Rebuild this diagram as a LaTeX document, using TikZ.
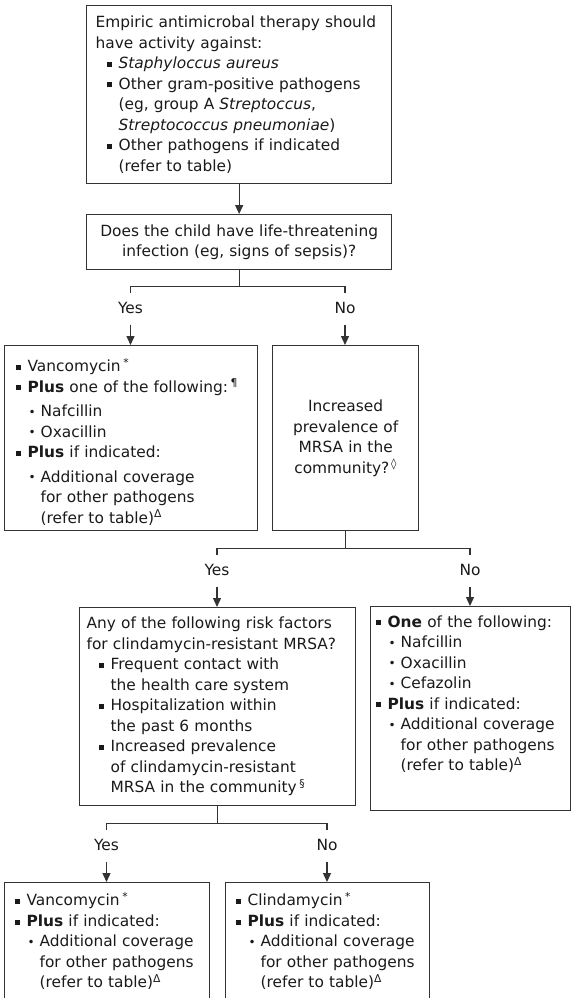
\documentclass[tikz,border=0pt]{standalone}
\usepackage{fontspec}
\setmainfont{DejaVu Sans}
\usetikzlibrary{arrows.meta}

\definecolor{ln}{HTML}{333333}
\definecolor{tx}{HTML}{1A1A1A}

\newcommand{\sqbul}{\rule[1.8pt]{5pt}{5pt}}
\newcommand{\rdbul}{\raisebox{0.5pt}{\fontsize{12}{12}\selectfont •}}
\newcommand{\itm}[2][0pt]{\par\hangindent=\dimexpr#1+12pt\relax\noindent\makebox[\dimexpr#1+12pt\relax][l]{\hspace*{#1}\sqbul}#2}
\newcommand{\sitm}[2][13pt]{\par\hangindent=\dimexpr#1+12pt\relax\noindent\makebox[\dimexpr#1+12pt\relax][l]{\hspace*{#1}\rdbul}#2}
\newcommand{\subgap}{\par\vspace{4pt}}
\newcommand{\seeref}{(refer to table)\textsuperscript{Δ}}

\begin{document}
\begin{tikzpicture}[x=1pt, y=-1pt,
		every node/.style={text=tx, font={\fontsize{15.4}{20.5}\selectfont\parindent=0pt}},
		box/.style={draw=ln, line width=1.3pt, anchor=north west, inner ysep=0pt, align=left},
		qbox/.style={box, align=center},
		lbl/.style={anchor=base, inner xsep=0pt, inner ysep=8.5pt, text height=11.5pt, text depth=3pt},
		wire/.style={draw=ln, line width=1.3pt},
		arr/.style={-{Triangle[length=9pt,width=8pt]}}
		]
	\useasboundingbox (0,0) rectangle (571,998);

	\node [box, inner xsep=9pt, text width=287pt, minimum height=178pt] (top) at (86,5) {%
		\noindent Empiric antimicrobal therapy should\newline have activity against:
		\itm[11pt]{\textit{Staphyloccus aureus}}
		\itm[11pt]{Other gram-positive pathogens\newline (eg, group A \textit{Streptoccus},\newline \textit{Streptococcus pneumoniae})}
		\itm[11pt]{Other pathogens if indicated\newline (refer to table)}\par};
	\node [qbox, inner xsep=9pt, text width=287pt, minimum height=55pt] (q1) at (86,214)
		{Does the child have life-threatening\\ infection (eg, signs of sepsis)?};

	\node [box, inner xsep=11pt, text width=231pt, minimum height=185pt] (vanco) at (4,345) {%
		\itm{Vancomycin\,\textsuperscript{*}}
		\itm{\textbf{Plus} one of the following:\,\textsuperscript{¶}}
		\subgap
		\sitm{Nafcillin}
		\sitm{Oxacillin}
		\itm{\textbf{Plus} if indicated:}
		\subgap
		\sitm{Additional coverage\newline for other pathogens\newline \seeref}\par};
	\node [qbox, inner xsep=5pt, text width=136pt, minimum height=185pt] (prev) at (272,345)
		{Increased\\ prevalence of\\ MRSA in the\\ community?\textsuperscript{\,◊}};

	\node [box, inner xsep=7pt, text width=262pt, minimum height=198pt] (risk) at (79,607) {%
		\noindent Any of the following risk factors\newline for clindamycin-resistant MRSA?
		\itm[12pt]{Frequent contact with\newline the health care system}
		\itm[12pt]{Hospitalization within\newline the past 6 months}
		\itm[12pt]{Increased prevalence\newline of clindamycin-resistant\newline MRSA in the community\,\textsuperscript{§}}\par};
	\node [box, inner xsep=5pt, text width=190pt, minimum height=201pt] (one) at (370,606) {%
		\itm{\textbf{One} of the following:}
		\sitm{Nafcillin}
		\sitm{Oxacillin}
		\sitm{Cefazolin}
		\itm{\textbf{Plus} if indicated:}
		\sitm{Additional coverage\newline for other pathogens\newline \seeref}
		\par\vspace{38pt}};

	\node [box, inner xsep=10pt, text width=185pt, minimum height=118pt] (vanco2) at (4,882) {%
		\itm{Vancomycin\,\textsuperscript{*}}
		\itm{\textbf{Plus} if indicated:}
		\sitm{Additional coverage\newline for other pathogens\newline \seeref}
		\par\vspace{8pt}};
	\node [box, inner xsep=10pt, text width=184pt, minimum height=118pt] (clinda) at (225,882) {%
		\itm{Clindamycin\,\textsuperscript{*}}
		\itm{\textbf{Plus} if indicated:}
		\sitm{Additional coverage\newline for other pathogens\newline \seeref}
		\par\vspace{8pt}};

	\node [lbl] (yes1) at (130.5,313) {Yes};
	\node [lbl] (no1) at (345,313) {No};
	\node [lbl] (yes2) at (217,575) {Yes};
	\node [lbl] (no2) at (470,575) {No};
	\node [lbl] (yes3) at (106.5,850) {Yes};
	\node [lbl] (no3) at (327,850) {No};

	\draw [wire, arr] (top.south) -- (q1.north);
	\draw [wire] (q1.south) -- ++(0,16) -| (yes1.north);
	\draw [wire] (q1.south) ++(0,16) -| (no1.north);
	\draw [wire, arr] (yes1.south) -- (yes1.south |- vanco.north);
	\draw [wire, arr] (no1.south) -- (no1.south |- prev.north);

	\draw [wire] (prev.south) -- ++(0,17) -| (yes2.north);
	\draw [wire] (prev.south) ++(0,17) -| (no2.north);
	\draw [wire, arr] (yes2.south) -- (yes2.south |- risk.north);
	\draw [wire, arr] (no2.south) -- (no2.south |- one.north);

	\draw [wire] (risk.south) -- ++(0,17) -| (yes3.north);
	\draw [wire] (risk.south) ++(0,17) -| (no3.north);
	\draw [wire, arr] (yes3.south) -- (yes3.south |- vanco2.north);
	\draw [wire, arr] (no3.south) -- (no3.south |- clinda.north);
\end{tikzpicture}
\end{document}
